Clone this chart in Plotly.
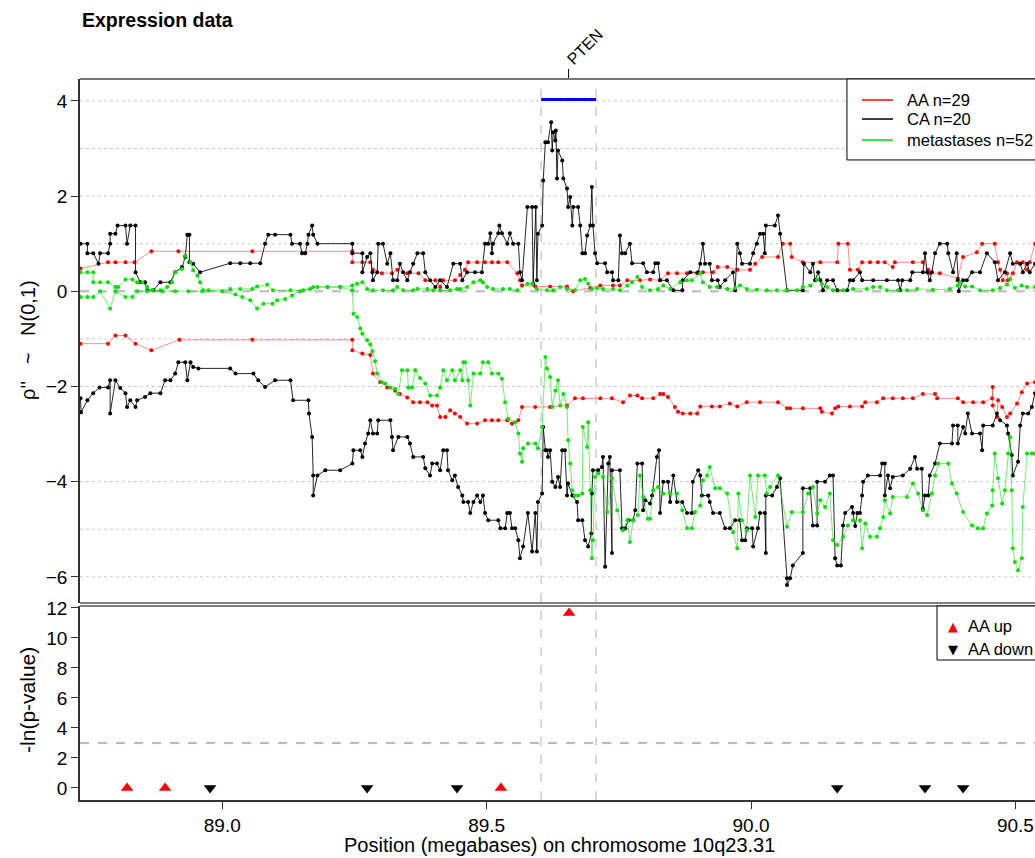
import plotly.graph_objects as go

# ---- Expression profiles along 10q23.31 (position in Mb, rho'' score) ----
ca_upper = [
    (88.732, 1.00), (88.745, 1.00), (88.745, 0.80), (88.756, 0.80), (88.766, 0.58), (88.769, 0.80),
    (88.784, 0.80), (88.788, 1.00), (88.788, 1.21), (88.798, 1.21), (88.802, 1.38), (88.817, 1.38),
    (88.820, 1.00), (88.826, 1.38), (88.836, 1.38), (88.836, 0.40), (88.845, 0.19), (88.854, 0.19),
    (88.858, 0.02), (88.870, 0.02), (88.883, 0.19), (88.902, 0.19), (88.911, 0.40), (88.924, 0.51),
    (88.930, 0.72), (88.934, 1.19), (88.938, 1.19), (88.938, 0.61), (88.945, 0.58), (88.958, 0.40),
    (89.015, 0.59), (89.034, 0.59), (89.053, 0.59), (89.072, 0.59), (89.081, 1.00), (89.087, 1.19),
    (89.100, 1.19), (89.129, 1.19), (89.132, 1.00), (89.147, 1.00), (89.151, 0.80), (89.157, 0.80),
    (89.161, 1.00), (89.163, 1.19), (89.170, 1.38), (89.172, 1.19), (89.180, 1.00), (89.246, 1.00),
    (89.246, 0.80), (89.265, 0.80), (89.265, 0.40), (89.274, 0.72), (89.280, 0.80), (89.284, 0.40),
    (89.285, 0.23), (89.293, 0.40), (89.295, 1.00), (89.304, 1.00), (89.312, 0.58), (89.318, 0.80),
    (89.323, 0.23), (89.331, 0.23), (89.336, 0.58), (89.342, 0.40), (89.350, 0.23), (89.355, 0.40),
    (89.361, 0.58), (89.369, 0.80), (89.380, 0.80), (89.384, 0.40), (89.393, 0.23), (89.403, 0.09),
    (89.412, 0.23), (89.425, 0.09), (89.437, 0.58), (89.450, 0.58), (89.454, 0.23), (89.463, 0.40),
    (89.478, 0.40), (89.491, 0.40), (89.497, 1.00), (89.503, 1.00), (89.507, 1.22), (89.510, 0.80),
    (89.512, 1.00), (89.522, 1.22), (89.524, 1.38), (89.529, 1.22), (89.539, 1.00), (89.544, 1.22),
    (89.550, 1.00), (89.560, 1.00), (89.563, 0.40), (89.567, 0.23), (89.577, 1.77), (89.586, 1.77),
    (89.588, 0.16), (89.593, 1.77), (89.595, 0.23), (89.597, 1.21), (89.605, 1.38), (89.607, 2.33),
    (89.611, 3.13), (89.616, 3.13), (89.622, 3.55), (89.624, 2.96), (89.626, 3.34), (89.630, 3.17),
    (89.631, 3.38), (89.633, 2.37), (89.635, 2.96), (89.643, 2.75), (89.645, 2.37), (89.652, 2.16),
    (89.654, 1.77), (89.658, 1.98), (89.662, 1.38), (89.664, 1.77), (89.673, 1.77), (89.677, 1.38),
    (89.681, 0.80), (89.686, 0.80), (89.690, 1.17), (89.696, 1.38), (89.699, 2.19), (89.701, 1.38),
    (89.705, 0.80), (89.709, 0.59), (89.724, 0.59), (89.728, 0.40), (89.737, 0.40), (89.739, 0.23),
    (89.749, 0.23), (89.752, 1.17), (89.756, 0.80), (89.762, 0.80), (89.771, 1.00), (89.775, 0.59),
    (89.796, 0.59), (89.803, 0.40), (89.815, 0.40), (89.819, 0.59), (89.824, 0.59), (89.828, 0.23),
    (89.841, 0.23), (89.853, 0.02), (89.870, 0.02), (89.871, 0.23), (89.885, 0.40), (89.900, 0.40),
    (89.904, 0.58), (89.909, 1.00), (89.913, 0.58), (89.922, 0.58), (89.926, 0.23), (89.937, 0.23),
    (89.941, 0.09), (89.951, 0.23), (89.966, 0.40), (89.970, 0.02), (89.974, 1.00), (89.979, 0.80),
    (89.983, 0.58), (89.998, 0.58), (90.004, 0.80), (90.011, 1.00), (90.017, 1.21), (90.023, 1.21),
    (90.026, 0.80), (90.028, 1.38), (90.045, 1.38), (90.051, 1.59), (90.055, 1.21), (90.068, 0.02),
    (90.098, 0.02), (90.100, 0.58), (90.112, 0.40), (90.117, 0.58), (90.121, 0.23), (90.127, 0.40),
    (90.131, 0.23), (90.136, 0.02), (90.144, 0.23), (90.155, 0.23), (90.163, 0.02), (90.182, 0.02),
    (90.187, 0.23), (90.193, 0.23), (90.206, 0.40), (90.210, 0.23), (90.231, 0.23), (90.257, 0.23),
    (90.278, 0.23), (90.282, 0.02), (90.286, 0.23), (90.301, 0.23), (90.305, 0.40), (90.325, 0.40),
    (90.329, 0.80), (90.333, 0.40), (90.338, 0.23), (90.342, 0.40), (90.348, 0.80), (90.357, 1.00),
    (90.371, 1.00), (90.373, 0.80), (90.382, 0.40), (90.389, 0.80), (90.391, 0.23), (90.393, 0.00),
    (90.401, 0.23), (90.408, 0.23), (90.418, 0.40), (90.433, 0.40), (90.446, 0.80), (90.461, 0.61),
    (90.467, 0.23), (90.480, 0.40), (90.490, 0.80), (90.495, 0.58), (90.509, 0.58), (90.514, 0.40),
    (90.522, 0.58), (90.527, 0.40), (90.537, 0.58),
]

ca_lower = [
    (88.732, -2.25), (88.733, -2.54), (88.745, -2.29), (88.756, -2.14), (88.768, -2.02), (88.784, -2.02),
    (88.788, -1.87), (88.788, -2.57), (88.798, -1.87), (88.807, -2.03), (88.817, -2.14), (88.820, -2.43),
    (88.826, -2.29), (88.836, -2.43), (88.839, -2.29), (88.854, -2.22), (88.864, -2.14), (88.883, -2.14),
    (88.892, -1.87), (88.902, -1.87), (88.911, -1.73), (88.917, -1.49), (88.930, -1.49), (88.934, -1.87),
    (88.940, -1.49), (88.945, -1.59), (88.955, -1.62), (89.015, -1.62), (89.025, -1.73), (89.059, -1.73),
    (89.068, -1.87), (89.081, -2.01), (89.100, -1.87), (89.129, -1.87), (89.134, -2.29), (89.163, -2.29),
    (89.164, -2.57), (89.170, -3.06), (89.172, -3.87), (89.172, -4.29), (89.180, -3.87), (89.195, -3.76),
    (89.223, -3.76), (89.246, -3.62), (89.248, -3.34), (89.261, -3.34), (89.265, -3.48), (89.270, -3.20),
    (89.276, -2.99), (89.280, -2.71), (89.285, -2.99), (89.293, -2.99), (89.295, -2.71), (89.318, -2.71),
    (89.321, -3.06), (89.323, -3.34), (89.333, -3.06), (89.350, -3.06), (89.355, -3.20), (89.361, -3.48),
    (89.380, -3.48), (89.384, -3.72), (89.393, -3.87), (89.397, -3.62), (89.406, -3.62), (89.412, -3.76),
    (89.418, -3.34), (89.425, -3.34), (89.427, -3.76), (89.435, -3.97), (89.440, -3.87), (89.446, -4.11),
    (89.454, -4.29), (89.456, -4.43), (89.465, -4.43), (89.469, -4.66), (89.475, -4.43), (89.482, -4.29),
    (89.488, -4.43), (89.493, -4.29), (89.497, -4.66), (89.503, -4.81), (89.522, -4.81), (89.526, -4.98),
    (89.535, -4.98), (89.539, -4.66), (89.544, -4.66), (89.548, -4.98), (89.554, -4.98), (89.560, -5.23),
    (89.563, -5.61), (89.569, -5.36), (89.578, -4.66), (89.586, -5.47), (89.592, -4.66), (89.595, -5.47),
    (89.597, -4.43), (89.605, -4.25), (89.607, -2.85), (89.611, -3.34), (89.614, -3.34), (89.616, -3.48),
    (89.620, -3.34), (89.624, -4.00), (89.630, -4.11), (89.635, -3.90), (89.639, -4.11), (89.643, -3.34),
    (89.648, -3.34), (89.652, -4.29), (89.654, -4.04), (89.662, -4.29), (89.671, -4.43), (89.673, -4.81),
    (89.681, -4.81), (89.686, -5.23), (89.692, -5.36), (89.698, -5.09), (89.699, -4.25), (89.701, -3.76),
    (89.711, -3.76), (89.718, -3.69), (89.720, -3.48), (89.724, -5.79), (89.730, -3.62), (89.733, -3.48),
    (89.737, -5.50), (89.737, -3.76), (89.752, -3.76), (89.756, -4.98), (89.762, -4.98), (89.768, -4.81),
    (89.777, -4.81), (89.781, -4.60), (89.785, -3.62), (89.794, -3.62), (89.796, -4.60), (89.800, -4.39),
    (89.809, -4.46), (89.813, -4.29), (89.822, -3.48), (89.826, -3.34), (89.828, -4.66), (89.834, -4.00),
    (89.843, -4.00), (89.847, -4.43), (89.853, -3.87), (89.860, -4.43), (89.870, -4.43), (89.879, -4.66),
    (89.888, -4.66), (89.890, -4.00), (89.900, -3.76), (89.904, -3.87), (89.907, -4.29), (89.919, -4.29),
    (89.922, -4.43), (89.928, -4.66), (89.941, -4.66), (89.951, -4.98), (89.960, -4.98), (89.970, -4.81),
    (89.979, -4.81), (89.983, -5.23), (89.989, -5.23), (89.992, -4.98), (90.002, -4.98), (90.004, -5.36),
    (90.013, -4.98), (90.017, -4.66), (90.026, -4.66), (90.028, -5.50), (90.028, -4.29), (90.040, -4.29),
    (90.049, -4.11), (90.055, -3.93), (90.068, -6.03), (90.068, -6.17), (90.074, -6.03), (90.079, -5.76),
    (90.098, -5.50), (90.098, -4.14), (90.112, -4.14), (90.117, -4.92), (90.125, -4.92), (90.125, -4.00),
    (90.140, -4.00), (90.149, -3.87), (90.155, -3.87), (90.159, -5.61), (90.163, -5.76), (90.170, -5.76),
    (90.174, -4.92), (90.178, -4.66), (90.191, -4.53), (90.193, -4.66), (90.197, -4.93), (90.201, -4.66),
    (90.206, -4.66), (90.210, -4.29), (90.212, -4.00), (90.221, -3.87), (90.244, -3.87), (90.248, -3.62),
    (90.253, -3.62), (90.253, -4.29), (90.259, -3.87), (90.263, -4.14), (90.268, -3.90), (90.287, -3.87),
    (90.301, -3.73), (90.310, -3.48), (90.314, -3.73), (90.323, -3.73), (90.325, -4.57), (90.329, -4.29),
    (90.335, -4.29), (90.338, -3.87), (90.348, -3.62), (90.357, -3.20), (90.380, -3.20), (90.382, -2.82),
    (90.391, -2.82), (90.391, -3.20), (90.401, -2.85), (90.405, -2.99), (90.410, -2.57), (90.418, -2.99),
    (90.433, -2.99), (90.437, -3.34), (90.439, -2.82), (90.457, -2.82), (90.465, -2.57), (90.471, -2.71),
    (90.484, -2.82), (90.486, -2.99), (90.493, -3.44), (90.495, -3.87), (90.505, -3.58), (90.509, -2.82),
    (90.514, -2.57), (90.524, -2.57), (90.531, -2.43), (90.537, -2.14),
]

aa_upper = [
    (88.732, 0.48), (88.784, 0.61), (88.798, 0.61), (88.817, 0.61), (88.834, 0.61), (88.866, 0.84),
    (88.917, 0.84), (89.057, 0.84), (89.246, 0.84), (89.246, 0.61), (89.265, 0.61), (89.280, 0.61),
    (89.285, 0.45), (89.302, 0.38), (89.321, 0.38), (89.331, 0.45), (89.350, 0.38), (89.371, 0.38),
    (89.384, 0.23), (89.403, 0.23), (89.412, 0.09), (89.418, 0.23), (89.440, 0.23), (89.450, 0.34),
    (89.459, 0.45), (89.465, 0.61), (89.482, 0.61), (89.497, 0.61), (89.510, 0.61), (89.522, 0.61),
    (89.539, 0.61), (89.558, 0.38), (89.563, 0.23), (89.567, 0.12), (89.592, 0.10), (89.620, 0.10),
    (89.652, 0.10), (89.664, 0.00), (89.696, 0.07), (89.715, 0.12), (89.739, 0.12), (89.752, 0.12),
    (89.766, 0.23), (89.790, 0.23), (89.809, 0.25), (89.828, 0.23), (89.843, 0.38), (89.860, 0.38),
    (89.879, 0.38), (89.898, 0.38), (89.909, 0.40), (89.928, 0.40), (89.937, 0.51), (89.955, 0.51),
    (89.974, 0.45), (89.998, 0.45), (90.008, 0.58), (90.021, 0.72), (90.051, 0.72), (90.060, 1.00),
    (90.074, 1.00), (90.077, 0.72), (90.098, 0.61), (90.131, 0.61), (90.163, 0.61), (90.165, 1.00),
    (90.183, 1.00), (90.187, 0.45), (90.202, 0.45), (90.210, 0.61), (90.225, 0.61), (90.240, 0.61),
    (90.253, 0.61), (90.268, 0.51), (90.272, 0.61), (90.306, 0.61), (90.325, 0.61), (90.335, 0.45),
    (90.338, 0.38), (90.357, 0.38), (90.391, 0.27), (90.401, 0.72), (90.427, 0.82), (90.437, 1.00),
    (90.461, 1.00), (90.467, 0.61), (90.471, 0.45), (90.476, 0.23), (90.484, 0.38), (90.486, 0.23),
    (90.495, 0.38), (90.503, 0.61), (90.514, 0.61), (90.522, 0.45), (90.527, 0.61), (90.537, 1.00),
]

aa_lower = [
    (88.732, -1.10), (88.784, -1.10), (88.798, -0.93), (88.817, -0.93), (88.836, -1.10), (88.866, -1.24),
    (88.919, -1.02), (89.057, -1.02), (89.246, -1.02), (89.246, -1.24), (89.265, -1.31), (89.280, -1.34),
    (89.285, -1.73), (89.299, -1.91), (89.312, -2.02), (89.327, -2.09), (89.336, -2.16), (89.350, -2.23),
    (89.361, -2.33), (89.374, -2.33), (89.388, -2.33), (89.397, -2.40), (89.406, -2.40), (89.412, -2.64),
    (89.422, -2.64), (89.431, -2.50), (89.440, -2.57), (89.450, -2.64), (89.463, -2.78), (89.482, -2.78),
    (89.497, -2.71), (89.510, -2.71), (89.522, -2.71), (89.539, -2.71), (89.548, -2.78), (89.560, -2.71),
    (89.567, -2.43), (89.592, -2.43), (89.620, -2.43), (89.652, -2.40), (89.667, -2.25), (89.682, -2.25),
    (89.715, -2.25), (89.737, -2.25), (89.758, -2.33), (89.771, -2.19), (89.785, -2.19), (89.794, -2.25),
    (89.815, -2.25), (89.828, -2.16), (89.834, -2.16), (89.843, -2.22), (89.856, -2.43), (89.862, -2.53),
    (89.871, -2.57), (89.885, -2.57), (89.898, -2.57), (89.904, -2.42), (89.926, -2.42), (89.941, -2.42),
    (89.960, -2.36), (89.974, -2.42), (89.992, -2.33), (90.017, -2.33), (90.051, -2.33), (90.068, -2.46),
    (90.074, -2.46), (90.098, -2.46), (90.131, -2.46), (90.134, -2.53), (90.153, -2.57), (90.159, -2.46),
    (90.165, -2.42), (90.187, -2.42), (90.210, -2.42), (90.216, -2.33), (90.238, -2.33), (90.250, -2.25),
    (90.268, -2.25), (90.287, -2.25), (90.306, -2.25), (90.325, -2.16), (90.348, -2.16), (90.352, -2.25),
    (90.391, -2.25), (90.401, -2.33), (90.420, -2.33), (90.439, -2.33), (90.456, -2.25), (90.457, -2.01),
    (90.457, -2.40), (90.465, -2.64), (90.467, -2.29), (90.475, -2.43), (90.484, -2.64), (90.490, -2.57),
    (90.503, -2.36), (90.512, -2.12), (90.522, -1.94), (90.537, -1.91),
]

met_upper = [
    (88.732, 0.40), (88.745, 0.40), (88.756, 0.40), (88.756, 0.19), (88.769, 0.19), (88.784, 0.19),
    (88.798, 0.09), (88.803, 0.09), (88.817, 0.25), (88.830, 0.25), (88.839, 0.19), (88.849, 0.19),
    (88.858, 0.09), (88.868, 0.02), (88.883, 0.02), (88.896, 0.09), (88.905, 0.19), (88.911, 0.40),
    (88.924, 0.47), (88.930, 0.75), (88.940, 0.61), (88.945, 0.44), (88.953, 0.33), (88.958, 0.19),
    (88.964, 0.02), (88.974, 0.02), (89.015, 0.05), (89.034, 0.05), (89.057, 0.05), (89.066, 0.10),
    (89.085, 0.14), (89.096, 0.02), (89.129, 0.02), (89.153, 0.02), (89.172, 0.09), (89.199, 0.09),
    (89.223, 0.09), (89.246, 0.12), (89.255, 0.16), (89.265, 0.19), (89.274, 0.05), (89.285, 0.02),
    (89.304, 0.02), (89.323, 0.02), (89.331, 0.09), (89.342, 0.02), (89.361, 0.02), (89.369, 0.05),
    (89.388, 0.05), (89.399, 0.02), (89.412, 0.02), (89.431, 0.02), (89.444, 0.05), (89.450, 0.05),
    (89.463, 0.09), (89.475, 0.19), (89.488, 0.23), (89.493, 0.19), (89.501, 0.09), (89.512, 0.05),
    (89.531, 0.05), (89.544, 0.05), (89.558, 0.02), (89.577, 0.16), (89.586, 0.16), (89.595, 0.05),
    (89.614, 0.02), (89.626, 0.02), (89.639, 0.09), (89.652, 0.05), (89.667, 0.02), (89.677, 0.23),
    (89.686, 0.26), (89.692, 0.16), (89.699, 0.05), (89.709, 0.07), (89.720, 0.05), (89.739, 0.05),
    (89.752, 0.02), (89.766, 0.12), (89.775, 0.19), (89.785, 0.30), (89.794, 0.09), (89.809, 0.02),
    (89.824, 0.05), (89.834, 0.12), (89.847, 0.05), (89.866, 0.19), (89.879, 0.23), (89.888, 0.23),
    (89.904, 0.38), (89.909, 0.19), (89.922, 0.09), (89.936, 0.09), (89.955, 0.05), (89.970, 0.07),
    (89.979, 0.12), (89.992, 0.05), (90.011, 0.03), (90.030, 0.02), (90.049, 0.02), (90.068, 0.02),
    (90.087, 0.02), (90.098, 0.09), (90.112, 0.12), (90.125, 0.25), (90.134, 0.16), (90.144, 0.09),
    (90.155, 0.02), (90.174, 0.02), (90.193, 0.05), (90.219, 0.05), (90.231, 0.09), (90.244, 0.09),
    (90.257, 0.02), (90.278, 0.02), (90.295, 0.02), (90.314, 0.05), (90.344, 0.03), (90.376, 0.05),
    (90.391, 0.12), (90.395, 0.19), (90.405, 0.10), (90.418, 0.10), (90.433, 0.02), (90.457, 0.02),
    (90.471, 0.07), (90.484, 0.14), (90.490, 0.26), (90.499, 0.07), (90.512, 0.12), (90.522, 0.09),
    (90.537, 0.09),
]

met_lower = [
    (88.732, -0.12), (88.745, -0.12), (88.756, -0.12), (88.769, 0.00), (88.788, -0.36), (88.798, 0.00),
    (88.817, -0.12), (88.830, -0.12), (88.839, 0.00), (88.858, 0.00), (88.887, 0.00), (88.911, 0.00),
    (88.936, 0.00), (88.962, 0.00), (89.000, 0.00), (89.025, -0.07), (89.038, -0.12), (89.053, -0.19),
    (89.066, -0.36), (89.078, -0.26), (89.095, -0.26), (89.104, -0.19), (89.119, -0.16), (89.132, -0.09),
    (89.147, 0.00), (89.166, 0.05), (89.180, 0.09), (89.199, 0.09), (89.223, 0.09), (89.246, 0.02),
    (89.248, -0.47), (89.255, -0.54), (89.261, -0.78), (89.265, -0.89), (89.274, -1.03), (89.280, -1.12),
    (89.284, -1.26), (89.289, -1.47), (89.293, -1.73), (89.302, -1.91), (89.308, -1.94), (89.318, -2.02),
    (89.327, -2.05), (89.333, -2.16), (89.340, -1.66), (89.350, -1.66), (89.352, -2.02), (89.359, -2.02),
    (89.365, -1.66), (89.374, -1.82), (89.384, -1.94), (89.393, -2.19), (89.406, -2.19), (89.412, -2.02),
    (89.418, -1.66), (89.425, -1.87), (89.435, -1.66), (89.440, -1.87), (89.450, -1.66), (89.454, -1.87),
    (89.456, -1.49), (89.459, -1.49), (89.465, -1.87), (89.469, -2.40), (89.475, -1.73), (89.488, -1.73),
    (89.493, -1.49), (89.503, -1.49), (89.510, -1.73), (89.522, -1.73), (89.529, -1.84), (89.535, -2.33),
    (89.541, -2.68), (89.554, -2.75), (89.560, -2.99), (89.563, -3.41), (89.567, -3.58), (89.569, -3.30),
    (89.578, -3.20), (89.592, -3.20), (89.597, -3.30), (89.605, -2.85), (89.611, -1.38), (89.614, -1.62),
    (89.620, -1.80), (89.624, -2.43), (89.630, -2.09), (89.635, -1.87), (89.639, -2.40), (89.645, -2.16),
    (89.652, -2.43), (89.654, -3.13), (89.658, -3.62), (89.662, -4.18), (89.667, -4.29), (89.673, -4.29),
    (89.681, -4.25), (89.682, -2.85), (89.690, -3.27), (89.692, -2.75), (89.696, -4.18), (89.699, -5.61),
    (89.701, -5.23), (89.705, -3.90), (89.711, -3.83), (89.720, -3.90), (89.728, -4.64), (89.737, -3.93),
    (89.747, -4.60), (89.758, -5.02), (89.766, -4.81), (89.771, -5.27), (89.777, -4.81), (89.786, -4.70),
    (89.790, -3.87), (89.796, -4.32), (89.805, -4.78), (89.809, -4.78), (89.815, -4.18), (89.824, -4.11),
    (89.834, -4.25), (89.847, -4.25), (89.860, -4.25), (89.870, -4.60), (89.879, -4.98), (89.888, -4.98),
    (89.894, -4.64), (89.904, -4.50), (89.909, -3.97), (89.917, -3.87), (89.922, -3.69), (89.932, -4.14),
    (89.941, -4.14), (89.955, -4.25), (89.966, -5.06), (89.974, -5.40), (89.976, -4.25), (89.983, -4.81),
    (89.992, -5.02), (89.998, -3.87), (90.008, -4.74), (90.013, -3.87), (90.026, -3.87), (90.030, -4.25),
    (90.036, -4.11), (90.051, -3.87), (90.068, -4.95), (90.077, -4.64), (90.098, -4.64), (90.108, -4.25),
    (90.117, -4.11), (90.125, -4.67), (90.131, -4.39), (90.140, -4.53), (90.149, -4.25), (90.155, -5.23),
    (90.163, -5.33), (90.174, -5.16), (90.183, -4.92), (90.193, -4.81), (90.206, -4.81), (90.210, -5.40),
    (90.216, -4.88), (90.225, -5.16), (90.238, -5.16), (90.244, -4.98), (90.250, -4.74), (90.253, -4.39),
    (90.263, -4.67), (90.268, -4.32), (90.295, -4.32), (90.306, -4.04), (90.316, -4.25), (90.325, -4.60),
    (90.333, -4.70), (90.342, -4.25), (90.348, -3.87), (90.354, -3.62), (90.373, -3.62), (90.380, -4.04),
    (90.389, -4.25), (90.401, -4.64), (90.418, -4.92), (90.429, -4.98), (90.439, -4.98), (90.446, -4.67),
    (90.456, -4.50), (90.457, -4.18), (90.461, -3.41), (90.467, -3.93), (90.475, -4.46), (90.480, -4.18),
    (90.486, -3.41), (90.490, -3.06), (90.493, -4.18), (90.495, -5.40), (90.499, -5.69), (90.505, -5.86),
    (90.512, -5.61), (90.514, -4.53), (90.522, -3.41), (90.531, -3.41), (90.537, -3.41),
]

# ---- AA vs CA tests: -ln(p-value) at gene positions ----
aa_up_pos = [88.820, 88.892, 89.527, 89.656]
aa_up_val = [0.0, 0.0, 0.0, 11.67]
aa_down_pos = [88.977, 89.274, 89.444, 90.163, 90.329, 90.401]
aa_down_val = [0.0, 0.0, 0.0, 0.0, 0.0, 0.0]

# ---- PTEN gene span and thresholds ----
pten_start, pten_end = 89.603, 89.707
pten_mid = (pten_start + pten_end) / 2
pval_cutoff = 3.0
x_range = [88.731, 90.537]
grid_levels = [4, 3, 2, 1, -1, -2, -4, -5, -6]

FONT = "Liberation Sans, Arial, sans-serif"

fig = go.Figure()

series = [
    ("AA", aa_upper, "rgba(255,0,0,0.45)", "#ff0000"),
    ("AA", aa_lower, "rgba(255,0,0,0.45)", "#ff0000"),
    ("CA", ca_upper, "rgba(0,0,0,0.85)", "#000000"),
    ("CA", ca_lower, "rgba(0,0,0,0.85)", "#000000"),
    ("metastases", met_upper, "rgba(0,220,0,0.55)", "#00e000"),
    ("metastases", met_lower, "rgba(0,220,0,0.55)", "#00e000"),
]
for name, pts, lcol, mcol in series:
    xs = [p[0] for p in pts]
    ys = [p[1] for p in pts]
    fig.add_trace(go.Scatter(
        x=xs, y=ys, mode="lines+markers", name=name, showlegend=False,
        line=dict(color=lcol, width=1),
        marker=dict(color=mcol, size=4, line=dict(width=0)),
        xaxis="x2", yaxis="y2",
    ))

fig.add_trace(go.Scatter(
    x=aa_up_pos, y=aa_up_val, mode="markers", showlegend=False,
    marker=dict(symbol="triangle-up", size=11, color="#ff0000"),
    xaxis="x", yaxis="y",
))
fig.add_trace(go.Scatter(
    x=aa_down_pos, y=aa_down_val, mode="markers", showlegend=False,
    marker=dict(symbol="triangle-down", size=11, color="#000000"),
    xaxis="x", yaxis="y",
))

top_dom = [0.2732, 1.0]
bot_dom = [0.0, 0.2691]
axis_col = "#333333"
tickfont = dict(family=FONT, size=19, color="#000")

fig.update_layout(
    width=1035, height=858,
    margin=dict(l=80, r=0, t=79, b=58),
    paper_bgcolor="white", plot_bgcolor="white",
    showlegend=False,
    xaxis=dict(domain=[0, 1], range=x_range, anchor="y",
               tickvals=[89.0, 89.5, 90.0, 90.5], ticktext=["89.0", "89.5", "90.0", "90.5"],
               ticks="outside", ticklen=7, tickcolor=axis_col, showline=True, linecolor=axis_col,
               linewidth=1.5, showgrid=False, zeroline=False, tickfont=tickfont),
    yaxis=dict(domain=bot_dom, range=[-0.8, 12.13], anchor="x",
               tickvals=[0, 2, 4, 6, 8, 10, 12], ticks="outside", ticklen=7, tickcolor=axis_col,
               showline=True, linecolor=axis_col, linewidth=1.5, showgrid=False, zeroline=False,
               tickfont=tickfont),
    xaxis2=dict(domain=[0, 1], range=x_range, anchor="y2", matches="x", showticklabels=False,
                ticks="", showline=False, showgrid=False, zeroline=False),
    yaxis2=dict(domain=top_dom, range=[-6.55, 4.46], anchor="x2",
                tickvals=[-6, -4, -2, 0, 2, 4], ticks="outside", ticklen=7, tickcolor=axis_col,
                showline=True, linecolor=axis_col, linewidth=1.5, showgrid=False, zeroline=False,
                tickfont=tickfont),
)

shapes = []
# dotted grid levels in the expression panel
for g in grid_levels:
    shapes.append(dict(type="line", xref="paper", yref="y2", x0=0, x1=1, y0=g, y1=g,
                       line=dict(color="#c8c8c8", width=1, dash="dot"), layer="below"))
shapes.append(dict(type="line", xref="paper", yref="y2", x0=0, x1=1, y0=0, y1=0,
                   line=dict(color="#c4c4c4", width=2.5, dash="dash"), layer="below"))
# PTEN boundaries through both panels
for xv in (pten_start, pten_end):
    shapes.append(dict(type="line", xref="x", yref="paper", x0=xv, x1=xv, y0=0, y1=1,
                       line=dict(color="#cccccc", width=1.5, dash="dash"), layer="below"))
# PTEN span bar
shapes.append(dict(type="line", xref="x", yref="y2", x0=pten_start, x1=pten_end, y0=4.03, y1=4.03,
                   line=dict(color="#0000ff", width=3)))
# PTEN tick above the panel
shapes.append(dict(type="line", xref="x", yref="paper", x0=pten_mid, x1=pten_mid, y0=1.0, y1=1.0139,
                   line=dict(color="#000", width=1)))
# p-value cutoff
shapes.append(dict(type="line", xref="paper", yref="y", x0=0, x1=1, y0=pval_cutoff, y1=pval_cutoff,
                   line=dict(color="#a0607a", width=1, dash="dash"), layer="below"))
# panel borders
shapes.append(dict(type="line", xref="paper", yref="paper", x0=0, x1=1, y0=1, y1=1,
                   line=dict(color="#777", width=2)))
shapes.append(dict(type="line", xref="paper", yref="paper", x0=0, x1=1, y0=top_dom[0], y1=top_dom[0],
                   line=dict(color="#555", width=1.5)))
shapes.append(dict(type="line", xref="paper", yref="paper", x0=0, x1=1, y0=bot_dom[1], y1=bot_dom[1],
                   line=dict(color="#555", width=1.5)))
# legend boxes
shapes.append(dict(type="rect", xref="paper", yref="paper", x0=0.8031, x1=1.05, y0=0.8877, y1=1.0,
                   line=dict(color="#000", width=1), fillcolor="white"))
shapes.append(dict(type="rect", xref="paper", yref="paper", x0=0.8974, x1=1.05, y0=0.1942, y1=bot_dom[1],
                   line=dict(color="#000", width=1), fillcolor="white"))
legend_rows = [("AA n=29", "#ff0000", 0.9709), ("CA n=20", "#000000", 0.9445),
               ("metastases n=52", "#00dd00", 0.9154)]
annotations = []
for label, col, yy in legend_rows:
    shapes.append(dict(type="line", xref="paper", yref="paper", x0=0.8188, x1=0.8513, y0=yy, y1=yy,
                       line=dict(color=col, width=1.5)))
    annotations.append(dict(xref="paper", yref="paper", x=0.8639, y=yy, text=label, showarrow=False,
                            xanchor="left", yanchor="middle", font=dict(family=FONT, size=16.5, color="#000")))
for sym, col, label, yy in [("▲", "#ff0000", "AA up", 0.2413), ("▼", "#000000", "AA down", 0.2094)]:
    annotations.append(dict(xref="paper", yref="paper", x=0.9141, y=yy, text=sym, showarrow=False,
                            xanchor="center", yanchor="middle", font=dict(family="DejaVu Sans", size=13, color=col)))
    annotations.append(dict(xref="paper", yref="paper", x=0.9277, y=yy, text=label, showarrow=False,
                            xanchor="left", yanchor="middle", font=dict(family=FONT, size=16.5, color="#000")))

annotations += [
    dict(xref="paper", yref="paper", x=0.0, y=1.0818, text="<b>Expression data</b>", showarrow=False,
         xanchor="left", yanchor="middle", font=dict(family=FONT, size=19.5, color="#000")),
    dict(xref="x", yref="paper", x=pten_mid, y=1.0444, xshift=17, text="PTEN", showarrow=False,
         textangle=-45, xanchor="center", yanchor="middle", font=dict(family=FONT, size=16, color="#000")),
    dict(xref="paper", yref="paper", x=-0.0545, y=0.638, text="ρ''   ~   N(0,1)", showarrow=False,
         textangle=-90, xanchor="center", yanchor="middle", font=dict(family=FONT, size=20, color="#000")),
    dict(xref="paper", yref="paper", x=-0.0545, y=0.1387, text="-ln(p-value)", showarrow=False,
         textangle=-90, xanchor="center", yanchor="middle", font=dict(family=FONT, size=21, color="#000")),
    dict(xref="paper", yref="paper", x=0.5026, y=-0.0624, text="Position (megabases) on chromosome 10q23.31",
         showarrow=False, xanchor="center", yanchor="middle", font=dict(family=FONT, size=20, color="#000")),
]

fig.update_layout(shapes=shapes, annotations=annotations)
fig.write_html("out.html")
